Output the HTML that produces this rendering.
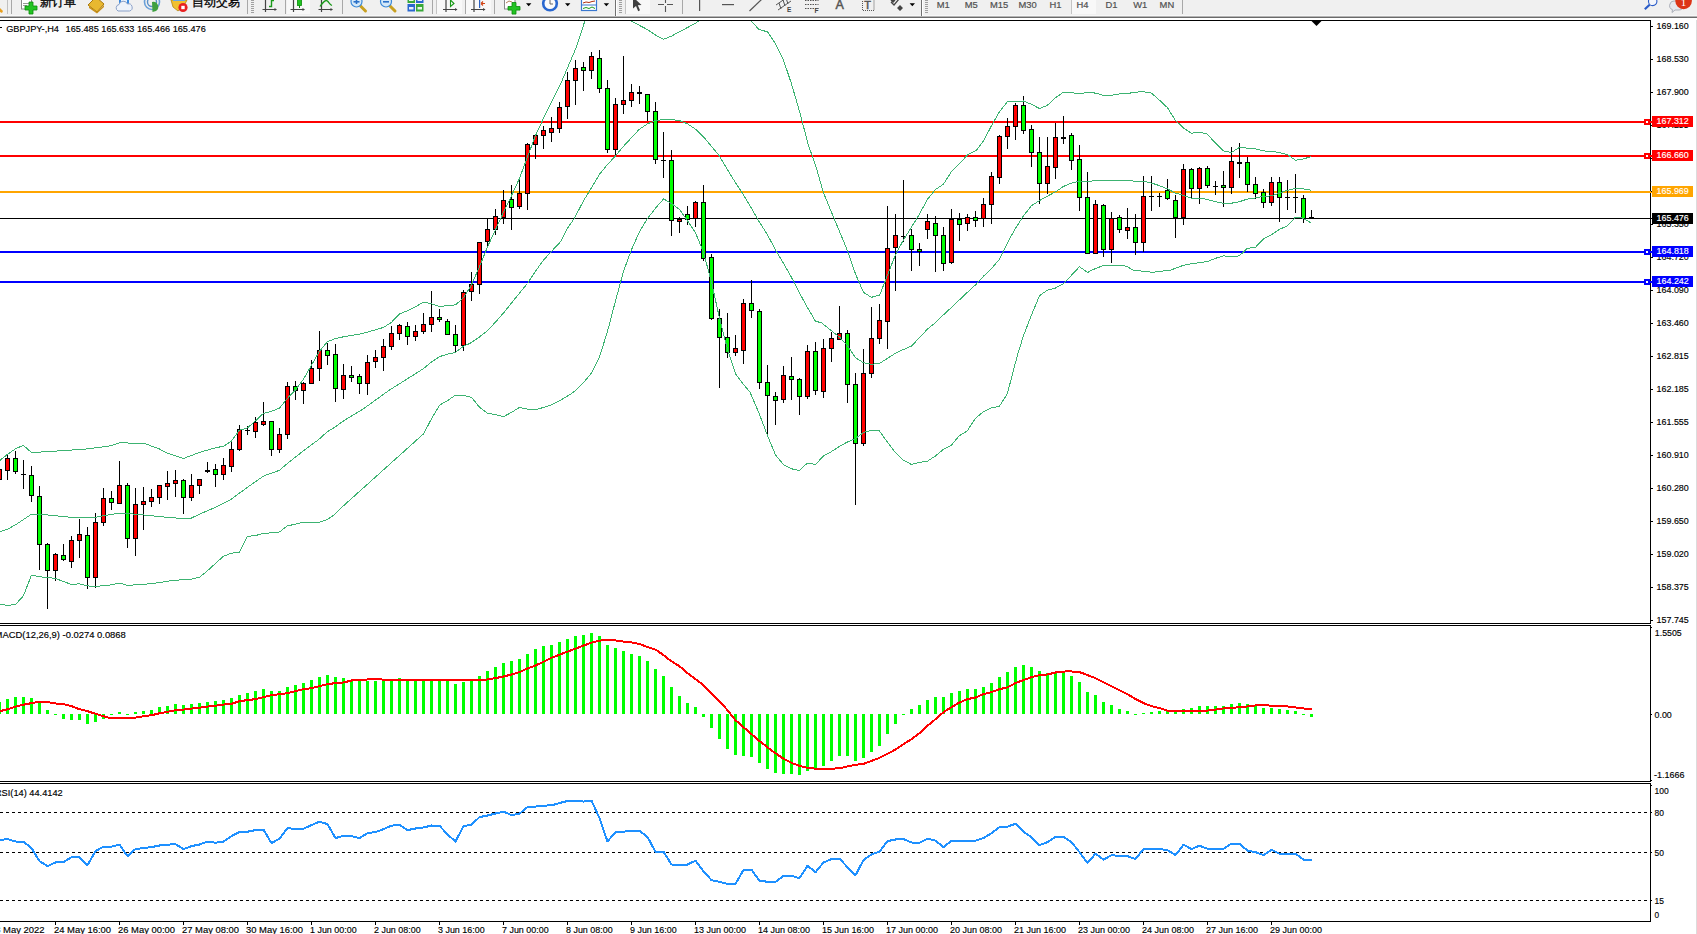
<!DOCTYPE html>
<html><head><meta charset="utf-8"><title>GBPJPY-,H4</title>
<style>html,body{margin:0;padding:0;background:#fff;overflow:hidden}svg{display:block}text{font-family:"Liberation Sans", sans-serif;}</style></head><body>
<svg width="1697" height="934" viewBox="0 0 1697 934">
<rect x="0" y="0" width="1697" height="934" fill="#fff"/>
<defs><clipPath id="cm"><rect x="0" y="21" width="1650" height="602"/></clipPath>
<clipPath id="c2"><rect x="0" y="626" width="1650" height="155"/></clipPath>
<clipPath id="c3"><rect x="0" y="784" width="1650" height="137"/></clipPath></defs>
<g clip-path="url(#cm)">
<rect x="0" y="121" width="1650" height="2" fill="#ff0000" shape-rendering="crispEdges"/>
<rect x="0" y="155" width="1650" height="2" fill="#ff0000" shape-rendering="crispEdges"/>
<rect x="0" y="191" width="1650" height="2" fill="#ffa500" shape-rendering="crispEdges"/>
<rect x="0" y="251" width="1650" height="2" fill="#0000ff" shape-rendering="crispEdges"/>
<rect x="0" y="281" width="1650" height="2" fill="#0000ff" shape-rendering="crispEdges"/>
<rect x="0" y="218" width="1650" height="1" fill="#000" shape-rendering="crispEdges"/>
<g shape-rendering="crispEdges">
<rect x="-1" y="469" width="1" height="11" fill="#000"/>
<rect x="-3" y="469" width="5" height="11" fill="#000"/>
<rect x="-2" y="470" width="3" height="9" fill="#ff0000"/>
<rect x="7" y="455" width="1" height="25" fill="#000"/>
<rect x="5" y="458" width="5" height="13" fill="#000"/>
<rect x="6" y="459" width="3" height="11" fill="#ff0000"/>
<rect x="15" y="451" width="1" height="23" fill="#000"/>
<rect x="13" y="458" width="5" height="14" fill="#000"/>
<rect x="14" y="459" width="3" height="12" fill="#00ff00"/>
<rect x="23" y="460" width="1" height="29" fill="#000"/>
<rect x="21" y="474" width="5" height="1" fill="#000"/>
<rect x="31" y="466" width="1" height="36" fill="#000"/>
<rect x="29" y="475" width="5" height="21" fill="#000"/>
<rect x="30" y="476" width="3" height="19" fill="#00ff00"/>
<rect x="39" y="486" width="1" height="84" fill="#000"/>
<rect x="37" y="496" width="5" height="49" fill="#000"/>
<rect x="38" y="497" width="3" height="47" fill="#00ff00"/>
<rect x="47" y="543" width="1" height="66" fill="#000"/>
<rect x="45" y="544" width="5" height="27" fill="#000"/>
<rect x="46" y="545" width="3" height="25" fill="#00ff00"/>
<rect x="55" y="553" width="1" height="28" fill="#000"/>
<rect x="53" y="554" width="5" height="17" fill="#000"/>
<rect x="54" y="555" width="3" height="15" fill="#ff0000"/>
<rect x="63" y="544" width="1" height="17" fill="#000"/>
<rect x="61" y="555" width="5" height="5" fill="#000"/>
<rect x="62" y="556" width="3" height="3" fill="#00ff00"/>
<rect x="71" y="536" width="1" height="32" fill="#000"/>
<rect x="69" y="540" width="5" height="22" fill="#000"/>
<rect x="70" y="541" width="3" height="20" fill="#ff0000"/>
<rect x="79" y="519" width="1" height="39" fill="#000"/>
<rect x="77" y="534" width="5" height="7" fill="#000"/>
<rect x="78" y="535" width="3" height="5" fill="#ff0000"/>
<rect x="87" y="527" width="1" height="62" fill="#000"/>
<rect x="85" y="535" width="5" height="43" fill="#000"/>
<rect x="86" y="536" width="3" height="41" fill="#00ff00"/>
<rect x="95" y="513" width="1" height="75" fill="#000"/>
<rect x="93" y="522" width="5" height="56" fill="#000"/>
<rect x="94" y="523" width="3" height="54" fill="#ff0000"/>
<rect x="103" y="488" width="1" height="38" fill="#000"/>
<rect x="101" y="498" width="5" height="25" fill="#000"/>
<rect x="102" y="499" width="3" height="23" fill="#ff0000"/>
<rect x="111" y="491" width="1" height="19" fill="#000"/>
<rect x="109" y="498" width="5" height="5" fill="#000"/>
<rect x="110" y="499" width="3" height="3" fill="#00ff00"/>
<rect x="119" y="461" width="1" height="43" fill="#000"/>
<rect x="117" y="485" width="5" height="19" fill="#000"/>
<rect x="118" y="486" width="3" height="17" fill="#ff0000"/>
<rect x="127" y="483" width="1" height="65" fill="#000"/>
<rect x="125" y="485" width="5" height="54" fill="#000"/>
<rect x="126" y="486" width="3" height="52" fill="#00ff00"/>
<rect x="135" y="488" width="1" height="68" fill="#000"/>
<rect x="133" y="504" width="5" height="35" fill="#000"/>
<rect x="134" y="505" width="3" height="33" fill="#ff0000"/>
<rect x="143" y="487" width="1" height="43" fill="#000"/>
<rect x="141" y="501" width="5" height="4" fill="#000"/>
<rect x="142" y="502" width="3" height="2" fill="#ff0000"/>
<rect x="151" y="489" width="1" height="18" fill="#000"/>
<rect x="149" y="497" width="5" height="5" fill="#000"/>
<rect x="150" y="498" width="3" height="3" fill="#ff0000"/>
<rect x="159" y="485" width="1" height="19" fill="#000"/>
<rect x="157" y="485" width="5" height="13" fill="#000"/>
<rect x="158" y="486" width="3" height="11" fill="#ff0000"/>
<rect x="167" y="471" width="1" height="29" fill="#000"/>
<rect x="165" y="483" width="5" height="4" fill="#000"/>
<rect x="166" y="484" width="3" height="2" fill="#ff0000"/>
<rect x="175" y="470" width="1" height="27" fill="#000"/>
<rect x="173" y="480" width="5" height="4" fill="#000"/>
<rect x="174" y="481" width="3" height="2" fill="#ff0000"/>
<rect x="183" y="479" width="1" height="35" fill="#000"/>
<rect x="181" y="480" width="5" height="18" fill="#000"/>
<rect x="182" y="481" width="3" height="16" fill="#00ff00"/>
<rect x="191" y="474" width="1" height="27" fill="#000"/>
<rect x="189" y="485" width="5" height="13" fill="#000"/>
<rect x="190" y="486" width="3" height="11" fill="#ff0000"/>
<rect x="199" y="479" width="1" height="15" fill="#000"/>
<rect x="197" y="479" width="5" height="7" fill="#000"/>
<rect x="198" y="480" width="3" height="5" fill="#ff0000"/>
<rect x="207" y="462" width="1" height="11" fill="#000"/>
<rect x="205" y="470" width="5" height="2" fill="#000"/>
<rect x="215" y="464" width="1" height="23" fill="#000"/>
<rect x="213" y="469" width="5" height="6" fill="#000"/>
<rect x="214" y="470" width="3" height="4" fill="#00ff00"/>
<rect x="223" y="458" width="1" height="22" fill="#000"/>
<rect x="221" y="465" width="5" height="10" fill="#000"/>
<rect x="222" y="466" width="3" height="8" fill="#ff0000"/>
<rect x="231" y="442" width="1" height="30" fill="#000"/>
<rect x="229" y="449" width="5" height="18" fill="#000"/>
<rect x="230" y="450" width="3" height="16" fill="#ff0000"/>
<rect x="239" y="425" width="1" height="26" fill="#000"/>
<rect x="237" y="429" width="5" height="21" fill="#000"/>
<rect x="238" y="430" width="3" height="19" fill="#ff0000"/>
<rect x="247" y="426" width="1" height="9" fill="#000"/>
<rect x="245" y="430" width="5" height="1" fill="#000"/>
<rect x="255" y="417" width="1" height="21" fill="#000"/>
<rect x="253" y="422" width="5" height="10" fill="#000"/>
<rect x="254" y="423" width="3" height="8" fill="#ff0000"/>
<rect x="263" y="402" width="1" height="24" fill="#000"/>
<rect x="261" y="421" width="5" height="4" fill="#000"/>
<rect x="262" y="422" width="3" height="2" fill="#ff0000"/>
<rect x="271" y="421" width="1" height="35" fill="#000"/>
<rect x="269" y="421" width="5" height="29" fill="#000"/>
<rect x="270" y="422" width="3" height="27" fill="#00ff00"/>
<rect x="279" y="428" width="1" height="25" fill="#000"/>
<rect x="277" y="434" width="5" height="16" fill="#000"/>
<rect x="278" y="435" width="3" height="14" fill="#ff0000"/>
<rect x="287" y="382" width="1" height="57" fill="#000"/>
<rect x="285" y="386" width="5" height="49" fill="#000"/>
<rect x="286" y="387" width="3" height="47" fill="#ff0000"/>
<rect x="295" y="381" width="1" height="19" fill="#000"/>
<rect x="293" y="386" width="5" height="5" fill="#000"/>
<rect x="294" y="387" width="3" height="3" fill="#00ff00"/>
<rect x="303" y="382" width="1" height="22" fill="#000"/>
<rect x="301" y="383" width="5" height="8" fill="#000"/>
<rect x="302" y="384" width="3" height="6" fill="#ff0000"/>
<rect x="311" y="360" width="1" height="24" fill="#000"/>
<rect x="309" y="368" width="5" height="16" fill="#000"/>
<rect x="310" y="369" width="3" height="14" fill="#ff0000"/>
<rect x="319" y="331" width="1" height="50" fill="#000"/>
<rect x="317" y="350" width="5" height="19" fill="#000"/>
<rect x="318" y="351" width="3" height="17" fill="#ff0000"/>
<rect x="327" y="343" width="1" height="22" fill="#000"/>
<rect x="325" y="350" width="5" height="6" fill="#000"/>
<rect x="326" y="351" width="3" height="4" fill="#00ff00"/>
<rect x="335" y="344" width="1" height="58" fill="#000"/>
<rect x="333" y="354" width="5" height="35" fill="#000"/>
<rect x="334" y="355" width="3" height="33" fill="#00ff00"/>
<rect x="343" y="364" width="1" height="35" fill="#000"/>
<rect x="341" y="375" width="5" height="15" fill="#000"/>
<rect x="342" y="376" width="3" height="13" fill="#ff0000"/>
<rect x="351" y="366" width="1" height="16" fill="#000"/>
<rect x="349" y="375" width="5" height="3" fill="#000"/>
<rect x="350" y="376" width="3" height="1" fill="#00ff00"/>
<rect x="359" y="374" width="1" height="20" fill="#000"/>
<rect x="357" y="376" width="5" height="8" fill="#000"/>
<rect x="358" y="377" width="3" height="6" fill="#00ff00"/>
<rect x="367" y="355" width="1" height="40" fill="#000"/>
<rect x="365" y="362" width="5" height="22" fill="#000"/>
<rect x="366" y="363" width="3" height="20" fill="#ff0000"/>
<rect x="375" y="350" width="1" height="18" fill="#000"/>
<rect x="373" y="357" width="5" height="5" fill="#000"/>
<rect x="374" y="358" width="3" height="3" fill="#ff0000"/>
<rect x="383" y="339" width="1" height="32" fill="#000"/>
<rect x="381" y="346" width="5" height="12" fill="#000"/>
<rect x="382" y="347" width="3" height="10" fill="#ff0000"/>
<rect x="391" y="326" width="1" height="24" fill="#000"/>
<rect x="389" y="333" width="5" height="14" fill="#000"/>
<rect x="390" y="334" width="3" height="12" fill="#ff0000"/>
<rect x="399" y="324" width="1" height="16" fill="#000"/>
<rect x="397" y="325" width="5" height="9" fill="#000"/>
<rect x="398" y="326" width="3" height="7" fill="#ff0000"/>
<rect x="407" y="322" width="1" height="23" fill="#000"/>
<rect x="405" y="326" width="5" height="11" fill="#000"/>
<rect x="406" y="327" width="3" height="9" fill="#00ff00"/>
<rect x="415" y="325" width="1" height="16" fill="#000"/>
<rect x="413" y="331" width="5" height="6" fill="#000"/>
<rect x="414" y="332" width="3" height="4" fill="#ff0000"/>
<rect x="423" y="313" width="1" height="21" fill="#000"/>
<rect x="421" y="324" width="5" height="8" fill="#000"/>
<rect x="422" y="325" width="3" height="6" fill="#ff0000"/>
<rect x="431" y="291" width="1" height="41" fill="#000"/>
<rect x="429" y="317" width="5" height="8" fill="#000"/>
<rect x="430" y="318" width="3" height="6" fill="#ff0000"/>
<rect x="439" y="309" width="1" height="13" fill="#000"/>
<rect x="437" y="317" width="5" height="3" fill="#000"/>
<rect x="438" y="318" width="3" height="1" fill="#00ff00"/>
<rect x="447" y="319" width="1" height="16" fill="#000"/>
<rect x="445" y="321" width="5" height="14" fill="#000"/>
<rect x="446" y="322" width="3" height="12" fill="#00ff00"/>
<rect x="455" y="325" width="1" height="28" fill="#000"/>
<rect x="453" y="334" width="5" height="12" fill="#000"/>
<rect x="454" y="335" width="3" height="10" fill="#00ff00"/>
<rect x="463" y="290" width="1" height="61" fill="#000"/>
<rect x="461" y="292" width="5" height="54" fill="#000"/>
<rect x="462" y="293" width="3" height="52" fill="#ff0000"/>
<rect x="471" y="272" width="1" height="29" fill="#000"/>
<rect x="469" y="284" width="5" height="8" fill="#000"/>
<rect x="470" y="285" width="3" height="6" fill="#ff0000"/>
<rect x="479" y="242" width="1" height="52" fill="#000"/>
<rect x="477" y="242" width="5" height="43" fill="#000"/>
<rect x="478" y="243" width="3" height="41" fill="#ff0000"/>
<rect x="487" y="219" width="1" height="29" fill="#000"/>
<rect x="485" y="229" width="5" height="13" fill="#000"/>
<rect x="486" y="230" width="3" height="11" fill="#ff0000"/>
<rect x="495" y="209" width="1" height="26" fill="#000"/>
<rect x="493" y="216" width="5" height="14" fill="#000"/>
<rect x="494" y="217" width="3" height="12" fill="#ff0000"/>
<rect x="503" y="190" width="1" height="34" fill="#000"/>
<rect x="501" y="200" width="5" height="18" fill="#000"/>
<rect x="502" y="201" width="3" height="16" fill="#ff0000"/>
<rect x="511" y="185" width="1" height="45" fill="#000"/>
<rect x="509" y="199" width="5" height="9" fill="#000"/>
<rect x="510" y="200" width="3" height="7" fill="#00ff00"/>
<rect x="519" y="178" width="1" height="31" fill="#000"/>
<rect x="517" y="193" width="5" height="14" fill="#000"/>
<rect x="518" y="194" width="3" height="12" fill="#ff0000"/>
<rect x="527" y="143" width="1" height="67" fill="#000"/>
<rect x="525" y="144" width="5" height="50" fill="#000"/>
<rect x="526" y="145" width="3" height="48" fill="#ff0000"/>
<rect x="535" y="135" width="1" height="24" fill="#000"/>
<rect x="533" y="135" width="5" height="10" fill="#000"/>
<rect x="534" y="136" width="3" height="8" fill="#ff0000"/>
<rect x="543" y="126" width="1" height="23" fill="#000"/>
<rect x="541" y="130" width="5" height="6" fill="#000"/>
<rect x="542" y="131" width="3" height="4" fill="#ff0000"/>
<rect x="551" y="117" width="1" height="25" fill="#000"/>
<rect x="549" y="128" width="5" height="5" fill="#000"/>
<rect x="550" y="129" width="3" height="3" fill="#ff0000"/>
<rect x="559" y="102" width="1" height="31" fill="#000"/>
<rect x="557" y="107" width="5" height="22" fill="#000"/>
<rect x="558" y="108" width="3" height="20" fill="#ff0000"/>
<rect x="567" y="72" width="1" height="47" fill="#000"/>
<rect x="565" y="80" width="5" height="27" fill="#000"/>
<rect x="566" y="81" width="3" height="25" fill="#ff0000"/>
<rect x="575" y="60" width="1" height="45" fill="#000"/>
<rect x="573" y="68" width="5" height="13" fill="#000"/>
<rect x="574" y="69" width="3" height="11" fill="#ff0000"/>
<rect x="583" y="62" width="1" height="29" fill="#000"/>
<rect x="581" y="67" width="5" height="4" fill="#000"/>
<rect x="582" y="68" width="3" height="2" fill="#00ff00"/>
<rect x="591" y="52" width="1" height="27" fill="#000"/>
<rect x="589" y="56" width="5" height="15" fill="#000"/>
<rect x="590" y="57" width="3" height="13" fill="#ff0000"/>
<rect x="599" y="50" width="1" height="43" fill="#000"/>
<rect x="597" y="58" width="5" height="31" fill="#000"/>
<rect x="598" y="59" width="3" height="29" fill="#00ff00"/>
<rect x="607" y="80" width="1" height="73" fill="#000"/>
<rect x="605" y="88" width="5" height="62" fill="#000"/>
<rect x="606" y="89" width="3" height="60" fill="#00ff00"/>
<rect x="615" y="98" width="1" height="58" fill="#000"/>
<rect x="613" y="104" width="5" height="46" fill="#000"/>
<rect x="614" y="105" width="3" height="44" fill="#ff0000"/>
<rect x="623" y="56" width="1" height="58" fill="#000"/>
<rect x="621" y="100" width="5" height="5" fill="#000"/>
<rect x="622" y="101" width="3" height="3" fill="#ff0000"/>
<rect x="631" y="84" width="1" height="23" fill="#000"/>
<rect x="629" y="92" width="5" height="9" fill="#000"/>
<rect x="630" y="93" width="3" height="7" fill="#ff0000"/>
<rect x="639" y="86" width="1" height="18" fill="#000"/>
<rect x="637" y="92" width="5" height="2" fill="#000"/>
<rect x="647" y="94" width="1" height="27" fill="#000"/>
<rect x="645" y="94" width="5" height="18" fill="#000"/>
<rect x="646" y="95" width="3" height="16" fill="#00ff00"/>
<rect x="655" y="102" width="1" height="62" fill="#000"/>
<rect x="653" y="111" width="5" height="49" fill="#000"/>
<rect x="654" y="112" width="3" height="47" fill="#00ff00"/>
<rect x="663" y="132" width="1" height="46" fill="#000"/>
<rect x="661" y="160" width="5" height="1" fill="#000"/>
<rect x="671" y="150" width="1" height="86" fill="#000"/>
<rect x="669" y="160" width="5" height="61" fill="#000"/>
<rect x="670" y="161" width="3" height="59" fill="#00ff00"/>
<rect x="679" y="217" width="1" height="16" fill="#000"/>
<rect x="677" y="219" width="5" height="3" fill="#000"/>
<rect x="678" y="220" width="3" height="1" fill="#ff0000"/>
<rect x="687" y="206" width="1" height="19" fill="#000"/>
<rect x="685" y="214" width="5" height="6" fill="#000"/>
<rect x="686" y="215" width="3" height="4" fill="#00ff00"/>
<rect x="695" y="201" width="1" height="26" fill="#000"/>
<rect x="693" y="202" width="5" height="17" fill="#000"/>
<rect x="694" y="203" width="3" height="15" fill="#ff0000"/>
<rect x="703" y="185" width="1" height="76" fill="#000"/>
<rect x="701" y="202" width="5" height="57" fill="#000"/>
<rect x="702" y="203" width="3" height="55" fill="#00ff00"/>
<rect x="711" y="254" width="1" height="66" fill="#000"/>
<rect x="709" y="257" width="5" height="62" fill="#000"/>
<rect x="710" y="258" width="3" height="60" fill="#00ff00"/>
<rect x="719" y="309" width="1" height="79" fill="#000"/>
<rect x="717" y="318" width="5" height="20" fill="#000"/>
<rect x="718" y="319" width="3" height="18" fill="#00ff00"/>
<rect x="727" y="313" width="1" height="45" fill="#000"/>
<rect x="725" y="337" width="5" height="16" fill="#000"/>
<rect x="726" y="338" width="3" height="14" fill="#00ff00"/>
<rect x="735" y="335" width="1" height="21" fill="#000"/>
<rect x="733" y="348" width="5" height="5" fill="#000"/>
<rect x="734" y="349" width="3" height="3" fill="#ff0000"/>
<rect x="743" y="299" width="1" height="65" fill="#000"/>
<rect x="741" y="303" width="5" height="48" fill="#000"/>
<rect x="742" y="304" width="3" height="46" fill="#ff0000"/>
<rect x="751" y="280" width="1" height="38" fill="#000"/>
<rect x="749" y="303" width="5" height="8" fill="#000"/>
<rect x="750" y="304" width="3" height="6" fill="#00ff00"/>
<rect x="759" y="309" width="1" height="80" fill="#000"/>
<rect x="757" y="311" width="5" height="72" fill="#000"/>
<rect x="758" y="312" width="3" height="70" fill="#00ff00"/>
<rect x="767" y="365" width="1" height="70" fill="#000"/>
<rect x="765" y="382" width="5" height="14" fill="#000"/>
<rect x="766" y="383" width="3" height="12" fill="#00ff00"/>
<rect x="775" y="392" width="1" height="33" fill="#000"/>
<rect x="773" y="396" width="5" height="5" fill="#000"/>
<rect x="774" y="397" width="3" height="3" fill="#00ff00"/>
<rect x="783" y="366" width="1" height="37" fill="#000"/>
<rect x="781" y="375" width="5" height="25" fill="#000"/>
<rect x="782" y="376" width="3" height="23" fill="#ff0000"/>
<rect x="791" y="357" width="1" height="43" fill="#000"/>
<rect x="789" y="376" width="5" height="4" fill="#000"/>
<rect x="790" y="377" width="3" height="2" fill="#00ff00"/>
<rect x="799" y="378" width="1" height="37" fill="#000"/>
<rect x="797" y="379" width="5" height="18" fill="#000"/>
<rect x="798" y="380" width="3" height="16" fill="#00ff00"/>
<rect x="807" y="345" width="1" height="54" fill="#000"/>
<rect x="805" y="351" width="5" height="46" fill="#000"/>
<rect x="806" y="352" width="3" height="44" fill="#ff0000"/>
<rect x="815" y="342" width="1" height="53" fill="#000"/>
<rect x="813" y="351" width="5" height="40" fill="#000"/>
<rect x="814" y="352" width="3" height="38" fill="#00ff00"/>
<rect x="823" y="339" width="1" height="59" fill="#000"/>
<rect x="821" y="348" width="5" height="44" fill="#000"/>
<rect x="822" y="349" width="3" height="42" fill="#ff0000"/>
<rect x="831" y="332" width="1" height="30" fill="#000"/>
<rect x="829" y="338" width="5" height="11" fill="#000"/>
<rect x="830" y="339" width="3" height="9" fill="#ff0000"/>
<rect x="839" y="306" width="1" height="34" fill="#000"/>
<rect x="837" y="333" width="5" height="7" fill="#000"/>
<rect x="838" y="334" width="3" height="5" fill="#ff0000"/>
<rect x="847" y="330" width="1" height="73" fill="#000"/>
<rect x="845" y="333" width="5" height="52" fill="#000"/>
<rect x="846" y="334" width="3" height="50" fill="#00ff00"/>
<rect x="855" y="373" width="1" height="132" fill="#000"/>
<rect x="853" y="384" width="5" height="60" fill="#000"/>
<rect x="854" y="385" width="3" height="58" fill="#00ff00"/>
<rect x="863" y="349" width="1" height="97" fill="#000"/>
<rect x="861" y="373" width="5" height="71" fill="#000"/>
<rect x="862" y="374" width="3" height="69" fill="#ff0000"/>
<rect x="871" y="307" width="1" height="71" fill="#000"/>
<rect x="869" y="338" width="5" height="36" fill="#000"/>
<rect x="870" y="339" width="3" height="34" fill="#ff0000"/>
<rect x="879" y="304" width="1" height="40" fill="#000"/>
<rect x="877" y="320" width="5" height="19" fill="#000"/>
<rect x="878" y="321" width="3" height="17" fill="#ff0000"/>
<rect x="887" y="206" width="1" height="143" fill="#000"/>
<rect x="885" y="248" width="5" height="74" fill="#000"/>
<rect x="886" y="249" width="3" height="72" fill="#ff0000"/>
<rect x="895" y="214" width="1" height="77" fill="#000"/>
<rect x="893" y="235" width="5" height="13" fill="#000"/>
<rect x="894" y="236" width="3" height="11" fill="#ff0000"/>
<rect x="903" y="180" width="1" height="62" fill="#000"/>
<rect x="901" y="236" width="5" height="1" fill="#000"/>
<rect x="911" y="229" width="1" height="42" fill="#000"/>
<rect x="909" y="235" width="5" height="15" fill="#000"/>
<rect x="910" y="236" width="3" height="13" fill="#00ff00"/>
<rect x="919" y="243" width="1" height="23" fill="#000"/>
<rect x="917" y="249" width="5" height="3" fill="#000"/>
<rect x="918" y="250" width="3" height="1" fill="#00ff00"/>
<rect x="927" y="214" width="1" height="25" fill="#000"/>
<rect x="925" y="221" width="5" height="9" fill="#000"/>
<rect x="926" y="222" width="3" height="7" fill="#ff0000"/>
<rect x="935" y="216" width="1" height="56" fill="#000"/>
<rect x="933" y="223" width="5" height="13" fill="#000"/>
<rect x="934" y="224" width="3" height="11" fill="#00ff00"/>
<rect x="943" y="227" width="1" height="44" fill="#000"/>
<rect x="941" y="235" width="5" height="29" fill="#000"/>
<rect x="942" y="236" width="3" height="27" fill="#00ff00"/>
<rect x="951" y="209" width="1" height="55" fill="#000"/>
<rect x="949" y="219" width="5" height="44" fill="#000"/>
<rect x="950" y="220" width="3" height="42" fill="#ff0000"/>
<rect x="959" y="213" width="1" height="28" fill="#000"/>
<rect x="957" y="219" width="5" height="6" fill="#000"/>
<rect x="958" y="220" width="3" height="4" fill="#00ff00"/>
<rect x="967" y="214" width="1" height="17" fill="#000"/>
<rect x="965" y="217" width="5" height="7" fill="#000"/>
<rect x="966" y="218" width="3" height="5" fill="#ff0000"/>
<rect x="975" y="211" width="1" height="16" fill="#000"/>
<rect x="973" y="217" width="5" height="4" fill="#000"/>
<rect x="974" y="218" width="3" height="2" fill="#00ff00"/>
<rect x="983" y="198" width="1" height="29" fill="#000"/>
<rect x="981" y="204" width="5" height="15" fill="#000"/>
<rect x="982" y="205" width="3" height="13" fill="#ff0000"/>
<rect x="991" y="172" width="1" height="52" fill="#000"/>
<rect x="989" y="176" width="5" height="29" fill="#000"/>
<rect x="990" y="177" width="3" height="27" fill="#ff0000"/>
<rect x="999" y="135" width="1" height="49" fill="#000"/>
<rect x="997" y="136" width="5" height="42" fill="#000"/>
<rect x="998" y="137" width="3" height="40" fill="#ff0000"/>
<rect x="1007" y="118" width="1" height="31" fill="#000"/>
<rect x="1005" y="126" width="5" height="11" fill="#000"/>
<rect x="1006" y="127" width="3" height="9" fill="#ff0000"/>
<rect x="1015" y="103" width="1" height="37" fill="#000"/>
<rect x="1013" y="105" width="5" height="22" fill="#000"/>
<rect x="1014" y="106" width="3" height="20" fill="#ff0000"/>
<rect x="1023" y="96" width="1" height="38" fill="#000"/>
<rect x="1021" y="105" width="5" height="26" fill="#000"/>
<rect x="1022" y="106" width="3" height="24" fill="#00ff00"/>
<rect x="1031" y="125" width="1" height="42" fill="#000"/>
<rect x="1029" y="129" width="5" height="24" fill="#000"/>
<rect x="1030" y="130" width="3" height="22" fill="#00ff00"/>
<rect x="1039" y="137" width="1" height="67" fill="#000"/>
<rect x="1037" y="152" width="5" height="32" fill="#000"/>
<rect x="1038" y="153" width="3" height="30" fill="#00ff00"/>
<rect x="1047" y="137" width="1" height="57" fill="#000"/>
<rect x="1045" y="166" width="5" height="18" fill="#000"/>
<rect x="1046" y="167" width="3" height="16" fill="#ff0000"/>
<rect x="1055" y="123" width="1" height="56" fill="#000"/>
<rect x="1053" y="137" width="5" height="31" fill="#000"/>
<rect x="1054" y="138" width="3" height="29" fill="#ff0000"/>
<rect x="1063" y="116" width="1" height="28" fill="#000"/>
<rect x="1061" y="137" width="5" height="2" fill="#000"/>
<rect x="1071" y="133" width="1" height="37" fill="#000"/>
<rect x="1069" y="135" width="5" height="26" fill="#000"/>
<rect x="1070" y="136" width="3" height="24" fill="#00ff00"/>
<rect x="1079" y="145" width="1" height="66" fill="#000"/>
<rect x="1077" y="159" width="5" height="39" fill="#000"/>
<rect x="1078" y="160" width="3" height="37" fill="#00ff00"/>
<rect x="1087" y="172" width="1" height="82" fill="#000"/>
<rect x="1085" y="197" width="5" height="57" fill="#000"/>
<rect x="1086" y="198" width="3" height="55" fill="#00ff00"/>
<rect x="1095" y="200" width="1" height="54" fill="#000"/>
<rect x="1093" y="204" width="5" height="50" fill="#000"/>
<rect x="1094" y="205" width="3" height="48" fill="#ff0000"/>
<rect x="1103" y="204" width="1" height="53" fill="#000"/>
<rect x="1101" y="205" width="5" height="45" fill="#000"/>
<rect x="1102" y="206" width="3" height="43" fill="#00ff00"/>
<rect x="1111" y="212" width="1" height="51" fill="#000"/>
<rect x="1109" y="218" width="5" height="32" fill="#000"/>
<rect x="1110" y="219" width="3" height="30" fill="#ff0000"/>
<rect x="1119" y="215" width="1" height="18" fill="#000"/>
<rect x="1117" y="217" width="5" height="13" fill="#000"/>
<rect x="1118" y="218" width="3" height="11" fill="#00ff00"/>
<rect x="1127" y="208" width="1" height="31" fill="#000"/>
<rect x="1125" y="227" width="5" height="4" fill="#000"/>
<rect x="1126" y="228" width="3" height="2" fill="#ff0000"/>
<rect x="1135" y="214" width="1" height="41" fill="#000"/>
<rect x="1133" y="227" width="5" height="16" fill="#000"/>
<rect x="1134" y="228" width="3" height="14" fill="#00ff00"/>
<rect x="1143" y="176" width="1" height="76" fill="#000"/>
<rect x="1141" y="196" width="5" height="47" fill="#000"/>
<rect x="1142" y="197" width="3" height="45" fill="#ff0000"/>
<rect x="1151" y="176" width="1" height="35" fill="#000"/>
<rect x="1149" y="196" width="5" height="1" fill="#000"/>
<rect x="1159" y="193" width="1" height="14" fill="#000"/>
<rect x="1157" y="196" width="5" height="1" fill="#000"/>
<rect x="1167" y="179" width="1" height="21" fill="#000"/>
<rect x="1165" y="190" width="5" height="9" fill="#000"/>
<rect x="1166" y="191" width="3" height="7" fill="#00ff00"/>
<rect x="1175" y="195" width="1" height="43" fill="#000"/>
<rect x="1173" y="200" width="5" height="18" fill="#000"/>
<rect x="1174" y="201" width="3" height="16" fill="#00ff00"/>
<rect x="1183" y="164" width="1" height="61" fill="#000"/>
<rect x="1181" y="169" width="5" height="49" fill="#000"/>
<rect x="1182" y="170" width="3" height="47" fill="#ff0000"/>
<rect x="1191" y="168" width="1" height="30" fill="#000"/>
<rect x="1189" y="169" width="5" height="20" fill="#000"/>
<rect x="1190" y="170" width="3" height="18" fill="#00ff00"/>
<rect x="1199" y="167" width="1" height="37" fill="#000"/>
<rect x="1197" y="168" width="5" height="21" fill="#000"/>
<rect x="1198" y="169" width="3" height="19" fill="#ff0000"/>
<rect x="1207" y="166" width="1" height="22" fill="#000"/>
<rect x="1205" y="168" width="5" height="18" fill="#000"/>
<rect x="1206" y="169" width="3" height="16" fill="#00ff00"/>
<rect x="1215" y="181" width="1" height="14" fill="#000"/>
<rect x="1213" y="186" width="5" height="1" fill="#000"/>
<rect x="1223" y="171" width="1" height="36" fill="#000"/>
<rect x="1221" y="185" width="5" height="3" fill="#000"/>
<rect x="1222" y="186" width="3" height="1" fill="#00ff00"/>
<rect x="1231" y="147" width="1" height="47" fill="#000"/>
<rect x="1229" y="161" width="5" height="27" fill="#000"/>
<rect x="1230" y="162" width="3" height="25" fill="#ff0000"/>
<rect x="1239" y="143" width="1" height="35" fill="#000"/>
<rect x="1237" y="162" width="5" height="2" fill="#000"/>
<rect x="1247" y="157" width="1" height="35" fill="#000"/>
<rect x="1245" y="162" width="5" height="23" fill="#000"/>
<rect x="1246" y="163" width="3" height="21" fill="#00ff00"/>
<rect x="1255" y="177" width="1" height="22" fill="#000"/>
<rect x="1253" y="184" width="5" height="10" fill="#000"/>
<rect x="1254" y="185" width="3" height="8" fill="#00ff00"/>
<rect x="1263" y="189" width="1" height="19" fill="#000"/>
<rect x="1261" y="192" width="5" height="11" fill="#000"/>
<rect x="1262" y="193" width="3" height="9" fill="#00ff00"/>
<rect x="1271" y="177" width="1" height="29" fill="#000"/>
<rect x="1269" y="182" width="5" height="21" fill="#000"/>
<rect x="1270" y="183" width="3" height="19" fill="#ff0000"/>
<rect x="1279" y="177" width="1" height="45" fill="#000"/>
<rect x="1277" y="182" width="5" height="16" fill="#000"/>
<rect x="1278" y="183" width="3" height="14" fill="#00ff00"/>
<rect x="1287" y="180" width="1" height="30" fill="#000"/>
<rect x="1285" y="197" width="5" height="1" fill="#000"/>
<rect x="1295" y="174" width="1" height="39" fill="#000"/>
<rect x="1293" y="197" width="5" height="1" fill="#000"/>
<rect x="1303" y="195" width="1" height="28" fill="#000"/>
<rect x="1301" y="198" width="5" height="21" fill="#000"/>
<rect x="1302" y="199" width="3" height="19" fill="#00ff00"/>
<rect x="1311" y="210" width="1" height="8" fill="#000"/>
<rect x="1309" y="217" width="5" height="1" fill="#000"/>
</g>
<polyline points="0.0,460.3 7.5,454.3 15.4,448.9 23.3,445.3 31.5,452.5 39.4,452.1 63.4,450.6 87.4,448.9 103.4,446.8 111.3,445.7 119.5,442.9 135.3,443.1 143.5,443.1 159.3,448.9 167.4,453.2 183.5,458.5 199.3,452.5 215.4,447.8 223.3,446.3 231.2,441.4 239.4,430.1 247.4,428.0 255.3,421.0 263.4,413.4 271.5,411.3 279.5,408.1 287.4,398.4 295.5,389.9 303.4,379.2 311.4,365.3 319.5,351.3 327.4,341.7 335.6,338.5 343.5,336.8 351.4,335.3 359.5,334.2 367.5,332.1 375.4,329.9 383.5,327.4 391.4,322.4 399.4,313.9 407.5,310.7 415.4,306.8 423.6,302.1 431.5,303.8 439.4,306.4 447.5,305.7 455.5,304.9 463.4,297.8 470.8,286.2 479.4,266.9 487.6,246.6 493.9,233.2 502.8,213.7 512.3,194.0 519.5,178.4 527.4,157.0 535.5,135.6 543.4,118.5 551.4,102.4 559.5,86.4 567.4,68.2 575.6,48.9 584.5,22.1 587.8,13.6 625.8,17.9 639.4,25.4 647.5,29.6 655.4,35.0 663.6,39.3 671.5,36.1 679.4,31.8 687.5,27.5 695.5,23.2 702.8,17.9 747.3,15.7 750.5,20.0 759.0,29.6 767.6,31.8 775.5,43.6 783.7,60.7 791.6,84.2 799.7,112.1 808.4,145.1 815.5,165.0 823.5,192.8 831.4,212.1 839.5,231.4 847.4,250.6 855.6,274.2 863.5,292.4 871.4,297.3 879.6,295.2 886.2,278.5 895.4,254.9 903.5,239.9 911.5,227.1 919.4,214.2 927.5,199.2 935.4,189.6 943.4,184.3 951.5,171.4 959.7,163.5 967.4,155.0 976.3,150.5 983.6,140.7 991.5,125.7 999.4,111.8 1007.5,101.7 1015.5,101.7 1023.4,101.0 1031.5,104.3 1039.4,108.5 1047.4,105.3 1055.5,97.8 1063.4,92.1 1071.3,92.5 1079.5,94.0 1087.4,92.1 1095.3,93.1 1103.5,95.3 1111.4,95.3 1119.3,94.0 1127.4,93.6 1135.4,92.1 1143.5,91.8 1151.4,93.1 1159.3,100.0 1167.3,107.5 1175.4,120.3 1183.3,127.8 1191.2,133.2 1199.4,132.1 1207.3,134.2 1215.2,142.8 1223.4,150.9 1231.5,152.4 1239.4,147.5 1247.3,148.1 1255.5,148.8 1263.2,150.9 1271.3,151.4 1279.2,152.4 1287.5,154.7 1295.4,160.2 1301.7,159.4 1310.9,156.7" fill="none" stroke="#3cb371" stroke-width="1" stroke-linejoin="round" shape-rendering="crispEdges"/>
<polyline points="0.0,531.8 7.5,529.2 15.4,524.9 23.3,519.6 31.5,514.2 39.4,514.2 55.5,515.7 71.5,517.4 87.4,517.8 95.5,517.4 103.4,515.7 119.5,513.1 127.4,513.6 135.3,514.2 151.4,515.7 167.4,517.4 183.5,518.5 191.4,518.1 199.3,514.2 215.4,507.4 231.2,499.2 247.3,487.4 263.4,476.1 279.4,470.3 287.3,463.5 303.2,451.0 319.0,439.3 327.4,431.6 335.3,426.9 343.5,420.9 351.4,416.0 359.5,411.3 367.5,405.9 375.4,400.2 383.5,394.2 391.4,388.8 399.4,383.9 407.5,378.7 415.4,373.8 423.6,368.5 431.5,362.0 439.4,356.7 447.5,354.1 455.5,352.4 463.4,346.4 470.8,342.9 479.4,337.0 487.6,330.6 495.5,322.1 503.5,313.0 511.5,303.0 519.5,293.1 527.5,283.5 535.5,271.2 543.6,260.0 551.5,251.4 560.7,241.5 567.4,228.5 574.7,217.8 583.5,200.8 591.4,188.0 599.5,174.2 607.5,164.5 615.4,156.0 623.5,146.3 631.4,137.8 639.4,129.2 647.5,123.8 655.4,120.6 663.6,119.6 671.5,119.6 679.4,120.6 687.5,123.8 695.5,129.2 703.4,136.7 711.5,146.3 719.4,156.0 727.6,169.9 735.5,182.7 742.2,192.8 751.5,208.3 758.7,221.0 767.6,235.0 775.5,249.9 781.8,260.5 791.6,277.6 799.6,293.1 807.5,307.6 815.5,321.3 821.5,322.7 831.3,330.7 839.5,337.1 847.4,345.7 855.3,357.5 863.5,362.8 871.4,364.3 879.3,363.5 887.4,358.5 895.4,353.2 902.8,349.8 911.4,346.1 919.4,337.8 927.4,329.2 936.8,321.5 943.4,314.9 951.5,307.4 959.4,299.9 967.3,292.4 975.5,284.9 983.4,276.3 991.3,268.9 999.4,259.3 1007.5,242.7 1015.5,228.3 1023.4,216.0 1031.4,205.8 1039.5,200.5 1047.4,196.2 1055.4,191.9 1063.4,186.5 1071.4,183.1 1079.5,181.2 1087.4,181.7 1095.3,180.4 1103.5,180.4 1111.4,180.3 1119.6,180.3 1127.4,180.3 1135.4,181.3 1143.5,181.3 1151.4,183.0 1159.3,185.6 1167.3,188.8 1175.4,193.1 1183.3,195.3 1191.2,198.0 1199.4,198.0 1207.3,199.5 1215.2,201.7 1223.4,203.2 1231.5,203.2 1239.4,201.7 1247.3,199.1 1255.5,198.0 1263.2,196.3 1271.3,195.9 1279.2,193.1 1287.5,190.3 1295.4,188.3 1301.7,188.6 1310.9,190.2" fill="none" stroke="#3cb371" stroke-width="1" stroke-linejoin="round" shape-rendering="crispEdges"/>
<polyline points="0.0,604.1 7.5,605.4 15.4,604.6 23.3,596.0 31.5,575.2 39.4,576.7 55.5,578.4 63.4,581.6 71.5,584.4 79.4,583.8 87.4,585.9 95.5,586.4 111.3,584.9 119.5,583.1 127.4,585.3 143.5,584.4 159.3,582.7 167.4,581.2 183.5,579.5 191.4,579.1 199.3,577.4 207.3,570.9 215.4,563.5 223.3,556.4 231.2,553.2 239.4,552.1 247.3,536.3 255.2,535.6 263.4,533.5 279.4,532.0 287.3,526.0 303.2,522.3 319.0,522.3 327.2,519.6 335.1,514.2 340.0,508.9 423.6,433.8 431.5,418.8 439.4,405.3 447.5,400.6 455.5,395.2 463.4,395.2 471.5,397.4 479.4,407.0 487.6,413.4 495.5,414.5 503.6,416.6 511.5,412.4 519.5,407.4 527.6,409.1 535.5,409.6 543.7,407.4 551.6,404.9 559.7,400.6 570.0,394.6 576.0,390.0 583.5,382.7 591.4,373.1 599.5,357.0 607.5,331.3 615.4,301.3 623.5,271.4 631.4,249.9 639.4,231.8 647.6,218.4 655.4,208.3 663.6,198.9 671.5,203.5 679.4,209.4 686.4,219.0 695.5,232.8 703.4,252.1 711.5,282.1 719.7,319.2 727.5,349.2 735.5,373.8 743.6,384.5 749.9,391.9 759.4,414.2 767.5,435.6 775.5,454.9 783.4,464.5 791.5,468.8 799.4,470.5 807.4,463.0 815.5,464.5 823.4,456.0 831.3,451.7 839.5,446.3 847.4,442.0 855.3,438.8 863.5,432.4 871.4,430.3 879.3,430.9 887.4,442.0 895.4,452.7 903.5,460.2 911.4,464.5 919.3,462.4 927.3,461.3 935.4,456.0 943.3,449.5 951.2,445.3 959.4,435.6 967.3,430.9 975.2,418.5 983.4,411.6 991.5,407.8 999.4,406.3 1007.3,393.9 1017.1,356.4 1023.3,336.2 1030.9,316.4 1039.5,295.6 1047.4,290.2 1055.3,288.1 1063.5,283.8 1071.4,275.3 1079.5,266.7 1087.5,272.5 1093.5,269.4 1103.5,265.4 1111.4,265.0 1119.6,265.0 1127.4,266.5 1132.6,270.0 1152.7,272.3 1170.9,270.0 1183.3,265.3 1191.2,263.8 1199.4,262.7 1207.3,261.6 1215.2,258.4 1223.4,255.8 1231.5,256.7 1239.4,255.8 1247.3,248.4 1255.5,247.3 1263.2,239.1 1271.3,234.9 1279.2,229.5 1287.5,225.8 1295.4,217.2 1301.7,217.8 1310.9,222.7" fill="none" stroke="#3cb371" stroke-width="1" stroke-linejoin="round" shape-rendering="crispEdges"/>
</g>
<rect x="1644" y="119" width="6" height="6" fill="#ff0000"/><rect x="1646" y="121" width="2" height="2" fill="#fff"/>
<rect x="1644" y="153" width="6" height="6" fill="#ff0000"/><rect x="1646" y="155" width="2" height="2" fill="#fff"/>
<rect x="1644" y="249" width="6" height="6" fill="#0000ff"/><rect x="1646" y="251" width="2" height="2" fill="#fff"/>
<rect x="1644" y="279" width="6" height="6" fill="#0000ff"/><rect x="1646" y="281" width="2" height="2" fill="#fff"/>
<g clip-path="url(#c2)">
<g shape-rendering="crispEdges" fill="#00ff00">
<rect x="-2" y="702" width="3" height="12"/>
<rect x="6" y="699" width="3" height="15"/>
<rect x="14" y="697" width="3" height="17"/>
<rect x="22" y="697" width="3" height="17"/>
<rect x="30" y="698" width="3" height="16"/>
<rect x="38" y="703" width="3" height="11"/>
<rect x="46" y="710" width="3" height="4"/>
<rect x="54" y="714" width="3" height="1"/>
<rect x="62" y="714" width="3" height="5"/>
<rect x="70" y="714" width="3" height="6"/>
<rect x="78" y="714" width="3" height="6"/>
<rect x="86" y="714" width="3" height="10"/>
<rect x="94" y="714" width="3" height="8"/>
<rect x="102" y="714" width="3" height="5"/>
<rect x="110" y="714" width="3" height="1"/>
<rect x="118" y="712" width="3" height="2"/>
<rect x="126" y="714" width="3" height="1"/>
<rect x="134" y="712" width="3" height="2"/>
<rect x="142" y="711" width="3" height="3"/>
<rect x="150" y="710" width="3" height="4"/>
<rect x="158" y="707" width="3" height="7"/>
<rect x="166" y="706" width="3" height="8"/>
<rect x="174" y="704" width="3" height="10"/>
<rect x="182" y="705" width="3" height="9"/>
<rect x="190" y="704" width="3" height="10"/>
<rect x="198" y="703" width="3" height="11"/>
<rect x="206" y="702" width="3" height="12"/>
<rect x="214" y="701" width="3" height="13"/>
<rect x="222" y="700" width="3" height="14"/>
<rect x="230" y="698" width="3" height="16"/>
<rect x="238" y="695" width="3" height="19"/>
<rect x="246" y="693" width="3" height="21"/>
<rect x="254" y="691" width="3" height="23"/>
<rect x="262" y="689" width="3" height="25"/>
<rect x="270" y="691" width="3" height="23"/>
<rect x="278" y="691" width="3" height="23"/>
<rect x="286" y="687" width="3" height="27"/>
<rect x="294" y="685" width="3" height="29"/>
<rect x="302" y="683" width="3" height="31"/>
<rect x="310" y="680" width="3" height="34"/>
<rect x="318" y="677" width="3" height="37"/>
<rect x="326" y="675" width="3" height="39"/>
<rect x="334" y="677" width="3" height="37"/>
<rect x="342" y="678" width="3" height="36"/>
<rect x="350" y="680" width="3" height="34"/>
<rect x="358" y="681" width="3" height="33"/>
<rect x="366" y="681" width="3" height="33"/>
<rect x="374" y="681" width="3" height="33"/>
<rect x="382" y="681" width="3" height="33"/>
<rect x="390" y="680" width="3" height="34"/>
<rect x="398" y="678" width="3" height="36"/>
<rect x="406" y="680" width="3" height="34"/>
<rect x="414" y="681" width="3" height="33"/>
<rect x="422" y="681" width="3" height="33"/>
<rect x="430" y="680" width="3" height="34"/>
<rect x="438" y="681" width="3" height="33"/>
<rect x="446" y="681" width="3" height="33"/>
<rect x="454" y="684" width="3" height="30"/>
<rect x="462" y="682" width="3" height="32"/>
<rect x="470" y="681" width="3" height="33"/>
<rect x="478" y="676" width="3" height="38"/>
<rect x="486" y="671" width="3" height="43"/>
<rect x="494" y="667" width="3" height="47"/>
<rect x="502" y="663" width="3" height="51"/>
<rect x="510" y="661" width="3" height="53"/>
<rect x="518" y="659" width="3" height="55"/>
<rect x="526" y="654" width="3" height="60"/>
<rect x="534" y="649" width="3" height="65"/>
<rect x="542" y="646" width="3" height="68"/>
<rect x="550" y="645" width="3" height="69"/>
<rect x="558" y="642" width="3" height="72"/>
<rect x="566" y="639" width="3" height="75"/>
<rect x="574" y="636" width="3" height="78"/>
<rect x="582" y="635" width="3" height="79"/>
<rect x="590" y="633" width="3" height="81"/>
<rect x="598" y="636" width="3" height="78"/>
<rect x="606" y="645" width="3" height="69"/>
<rect x="614" y="648" width="3" height="66"/>
<rect x="622" y="651" width="3" height="63"/>
<rect x="630" y="654" width="3" height="60"/>
<rect x="638" y="656" width="3" height="58"/>
<rect x="646" y="661" width="3" height="53"/>
<rect x="654" y="669" width="3" height="45"/>
<rect x="662" y="676" width="3" height="38"/>
<rect x="670" y="687" width="3" height="27"/>
<rect x="678" y="696" width="3" height="18"/>
<rect x="686" y="703" width="3" height="11"/>
<rect x="694" y="707" width="3" height="7"/>
<rect x="702" y="714" width="3" height="3"/>
<rect x="710" y="714" width="3" height="14"/>
<rect x="718" y="714" width="3" height="25"/>
<rect x="726" y="714" width="3" height="35"/>
<rect x="734" y="714" width="3" height="41"/>
<rect x="742" y="714" width="3" height="42"/>
<rect x="750" y="714" width="3" height="43"/>
<rect x="758" y="714" width="3" height="49"/>
<rect x="766" y="714" width="3" height="55"/>
<rect x="774" y="714" width="3" height="59"/>
<rect x="782" y="714" width="3" height="60"/>
<rect x="790" y="714" width="3" height="60"/>
<rect x="798" y="714" width="3" height="61"/>
<rect x="806" y="714" width="3" height="57"/>
<rect x="814" y="714" width="3" height="56"/>
<rect x="822" y="714" width="3" height="52"/>
<rect x="830" y="714" width="3" height="47"/>
<rect x="838" y="714" width="3" height="42"/>
<rect x="846" y="714" width="3" height="42"/>
<rect x="854" y="714" width="3" height="47"/>
<rect x="862" y="714" width="3" height="44"/>
<rect x="870" y="714" width="3" height="38"/>
<rect x="878" y="714" width="3" height="32"/>
<rect x="886" y="714" width="3" height="20"/>
<rect x="894" y="714" width="3" height="10"/>
<rect x="902" y="714" width="3" height="1"/>
<rect x="910" y="709" width="3" height="5"/>
<rect x="918" y="705" width="3" height="9"/>
<rect x="926" y="700" width="3" height="14"/>
<rect x="934" y="697" width="3" height="17"/>
<rect x="942" y="697" width="3" height="17"/>
<rect x="950" y="693" width="3" height="21"/>
<rect x="958" y="691" width="3" height="23"/>
<rect x="966" y="689" width="3" height="25"/>
<rect x="974" y="689" width="3" height="25"/>
<rect x="982" y="687" width="3" height="27"/>
<rect x="990" y="683" width="3" height="31"/>
<rect x="998" y="677" width="3" height="37"/>
<rect x="1006" y="672" width="3" height="42"/>
<rect x="1014" y="667" width="3" height="47"/>
<rect x="1022" y="665" width="3" height="49"/>
<rect x="1030" y="667" width="3" height="47"/>
<rect x="1038" y="671" width="3" height="43"/>
<rect x="1046" y="673" width="3" height="41"/>
<rect x="1054" y="672" width="3" height="42"/>
<rect x="1062" y="673" width="3" height="41"/>
<rect x="1070" y="676" width="3" height="38"/>
<rect x="1078" y="682" width="3" height="32"/>
<rect x="1086" y="692" width="3" height="22"/>
<rect x="1094" y="695" width="3" height="19"/>
<rect x="1102" y="702" width="3" height="12"/>
<rect x="1110" y="705" width="3" height="9"/>
<rect x="1118" y="709" width="3" height="5"/>
<rect x="1126" y="711" width="3" height="3"/>
<rect x="1134" y="714" width="3" height="1"/>
<rect x="1142" y="713" width="3" height="1"/>
<rect x="1150" y="712" width="3" height="2"/>
<rect x="1158" y="711" width="3" height="3"/>
<rect x="1166" y="711" width="3" height="3"/>
<rect x="1174" y="711" width="3" height="3"/>
<rect x="1182" y="709" width="3" height="5"/>
<rect x="1190" y="708" width="3" height="6"/>
<rect x="1198" y="706" width="3" height="8"/>
<rect x="1206" y="706" width="3" height="8"/>
<rect x="1214" y="706" width="3" height="8"/>
<rect x="1222" y="706" width="3" height="8"/>
<rect x="1230" y="704" width="3" height="10"/>
<rect x="1238" y="703" width="3" height="11"/>
<rect x="1246" y="704" width="3" height="10"/>
<rect x="1254" y="705" width="3" height="9"/>
<rect x="1262" y="708" width="3" height="6"/>
<rect x="1270" y="708" width="3" height="6"/>
<rect x="1278" y="709" width="3" height="5"/>
<rect x="1286" y="710" width="3" height="4"/>
<rect x="1294" y="711" width="3" height="3"/>
<rect x="1302" y="714" width="3" height="1"/>
<rect x="1310" y="714" width="3" height="3"/>
</g>
<polyline points="0.0,711.2 7.6,709.2 15.6,706.7 23.6,704.7 31.5,703.1 39.5,701.7 47.5,702.1 55.5,703.5 63.5,704.1 71.5,706.1 79.5,709.2 87.6,711.2 95.6,713.8 103.6,716.2 108.2,717.6 119.6,717.8 127.6,717.8 135.6,717.6 143.7,716.2 151.7,715.2 159.7,713.2 167.7,711.8 175.7,710.2 183.7,709.6 191.7,708.5 199.8,707.7 207.8,706.5 215.8,705.7 223.8,704.5 231.8,703.7 239.8,701.1 247.8,700.1 255.9,699.1 263.9,697.1 271.9,695.1 279.9,694.1 287.9,693.1 295.9,691.1 303.9,689.1 312.0,688.1 320.0,686.1 328.0,684.1 335.7,683.1 343.4,682.5 351.4,680.5 359.5,680.1 367.5,679.5 375.5,678.7 383.5,679.7 391.5,679.9 399.5,679.9 410.1,679.9 430.2,679.9 450.2,679.9 470.2,679.9 479.7,679.9 487.5,679.5 495.5,678.1 503.5,676.5 511.5,674.5 519.5,672.1 527.5,668.5 535.6,665.5 543.6,661.7 551.6,657.7 559.6,654.7 567.6,651.6 575.6,648.6 583.4,645.6 591.5,642.6 599.5,640.6 607.5,640.0 615.5,640.4 623.5,641.6 631.5,642.4 639.5,644.0 647.6,647.0 655.6,649.6 663.5,655.1 670.7,660.8 679.4,666.1 687.4,673.1 695.5,679.1 703.5,685.1 711.5,693.1 719.5,701.1 727.5,710.2 735.5,720.2 743.5,727.2 751.6,734.2 759.6,741.2 767.4,747.2 775.4,753.2 783.4,758.6 791.4,762.8 799.4,765.9 807.5,767.9 815.5,768.7 823.5,768.7 831.5,768.7 839.5,768.3 847.5,766.3 855.5,764.8 863.6,763.8 871.6,760.8 879.6,757.8 887.4,753.8 895.4,749.6 903.4,744.2 911.4,739.2 919.5,733.2 927.5,725.8 935.5,719.2 943.5,712.2 951.5,707.1 959.5,702.5 967.5,699.1 975.6,697.5 983.6,694.1 991.6,692.1 999.7,689.1 1007.4,687.5 1015.4,683.1 1023.5,680.1 1031.5,677.1 1039.5,675.1 1047.5,674.5 1055.5,672.5 1063.5,671.7 1068.1,671.1 1071.5,671.5 1079.6,672.1 1087.6,675.1 1095.4,678.1 1103.4,682.1 1111.4,686.1 1119.4,690.1 1127.4,694.1 1135.5,699.1 1143.5,703.1 1151.5,706.1 1159.5,708.1 1167.5,710.6 1175.5,710.8 1183.5,710.8 1191.6,710.8 1199.6,710.8 1207.6,710.6 1215.4,709.6 1223.4,708.5 1231.4,708.1 1239.4,707.1 1247.5,706.5 1255.5,705.5 1263.5,705.1 1271.5,705.7 1279.5,706.1 1287.5,706.5 1295.5,707.5 1303.6,708.5 1311.6,708.9" fill="none" stroke="#ff0000" stroke-width="2" stroke-linejoin="round" shape-rendering="crispEdges"/>
</g>
<g clip-path="url(#c3)">
<line x1="0" y1="812.5" x2="1650" y2="812.5" stroke="#000" stroke-width="1" stroke-dasharray="3,3"/>
<line x1="0" y1="852.5" x2="1650" y2="852.5" stroke="#000" stroke-width="1" stroke-dasharray="3,3"/>
<line x1="0" y1="900.5" x2="1650" y2="900.5" stroke="#000" stroke-width="1" stroke-dasharray="3,3"/>
<polyline points="-0.5,840.1 7.5,839.1 15.5,841.5 23.5,841.7 31.5,848.1 39.5,861.1 47.5,866.1 55.5,862.5 63.5,862.1 71.5,857.1 79.5,857.1 87.5,865.1 95.5,851.1 103.5,846.7 111.5,846.7 119.5,844.7 127.5,856.1 135.5,849.1 143.5,848.1 151.5,847.1 159.5,845.5 167.5,844.7 175.5,844.1 183.5,849.1 191.5,846.1 199.5,844.5 207.5,841.7 215.5,842.7 223.5,841.5 231.5,836.1 239.5,832.1 247.5,831.7 255.5,830.1 263.5,829.7 271.5,843.1 279.5,838.7 287.5,828.1 295.5,829.1 303.5,828.7 311.5,825.1 319.5,821.7 327.5,824.1 335.5,838.1 343.5,835.7 351.5,836.1 359.5,838.1 367.5,833.1 375.5,832.1 383.5,829.1 391.5,825.7 399.5,824.7 407.5,830.1 415.5,828.5 423.5,827.5 431.5,825.5 439.5,825.7 447.5,834.5 455.5,841.5 463.5,826.1 471.5,824.7 479.5,817.1 487.5,815.5 495.5,813.5 503.5,811.7 511.5,815.1 519.5,813.7 527.5,807.0 535.5,806.6 543.5,805.6 551.5,805.4 559.5,803.0 567.5,801.0 575.5,800.6 583.5,801.6 591.5,800.6 599.5,818.1 607.5,841.5 615.5,832.1 623.5,831.7 631.5,830.7 639.5,830.7 647.5,837.1 655.5,851.7 663.5,851.7 671.5,864.5 679.5,864.5 687.5,864.5 695.5,860.7 703.5,871.2 711.5,880.2 719.5,881.8 727.5,883.8 735.5,883.8 743.5,869.8 751.5,869.8 759.5,880.6 767.5,881.8 775.5,881.8 783.5,875.8 791.5,875.8 799.5,878.2 807.5,865.7 815.5,872.2 823.5,862.5 831.5,859.1 839.5,858.7 847.5,867.2 855.5,875.2 863.5,860.1 871.5,854.5 879.5,851.5 887.5,841.1 895.5,839.5 903.5,839.1 911.5,842.5 919.5,842.7 927.5,838.7 935.5,840.7 943.5,847.1 951.5,840.7 959.5,840.7 967.5,840.7 975.5,840.7 983.5,838.1 991.5,833.1 999.5,827.1 1007.5,826.7 1015.5,823.7 1023.5,831.7 1031.5,837.1 1039.5,845.1 1047.5,842.1 1055.5,836.7 1063.5,836.7 1071.5,842.1 1079.5,852.1 1087.5,863.1 1095.5,853.7 1103.5,859.7 1111.5,855.1 1119.5,856.1 1127.5,856.1 1135.5,859.1 1143.5,849.1 1151.5,848.7 1159.5,849.1 1167.5,850.1 1175.5,855.1 1183.5,844.7 1191.5,849.1 1199.5,845.7 1207.5,848.7 1215.5,848.7 1223.5,848.7 1231.5,843.7 1239.5,843.7 1247.5,850.7 1255.5,852.1 1263.5,855.1 1271.5,849.7 1279.5,853.7 1287.5,853.7 1295.5,853.7 1303.5,859.7 1311.5,859.7" fill="none" stroke="#1e90ff" stroke-width="2" stroke-linejoin="round" shape-rendering="crispEdges"/>
</g>
<g shape-rendering="crispEdges" fill="#000">
<rect x="0" y="20" width="1651" height="1"/>
<rect x="1650" y="20" width="1" height="902"/>
<rect x="0" y="623" width="1651" height="1"/>
<rect x="0" y="625" width="1651" height="1"/>
<rect x="0" y="781" width="1651" height="1"/>
<rect x="0" y="783" width="1651" height="1"/>
<rect x="0" y="921" width="1651" height="1"/>
</g>
<rect x="1650" y="121" width="2" height="2" fill="#ff0000"/>
<rect x="1650" y="155" width="2" height="2" fill="#ff0000"/>
<rect x="1650" y="191" width="2" height="2" fill="#ffa500"/>
<rect x="1650" y="251" width="2" height="2" fill="#0000ff"/>
<rect x="1650" y="281" width="2" height="2" fill="#0000ff"/>
<path d="M1311.5 21 L1321.5 21 L1316.5 26 Z" fill="#000"/>
<rect x="0" y="624" width="1651" height="1" fill="#fff"/>
<rect x="0" y="782" width="1651" height="1" fill="#fff"/>
<g shape-rendering="crispEdges" fill="#000">
<rect x="1651" y="26" width="2" height="1"/>
<rect x="1651" y="59" width="2" height="1"/>
<rect x="1651" y="92" width="2" height="1"/>
<rect x="1651" y="125" width="2" height="1"/>
<rect x="1651" y="158" width="2" height="1"/>
<rect x="1651" y="191" width="2" height="1"/>
<rect x="1651" y="224" width="2" height="1"/>
<rect x="1651" y="257" width="2" height="1"/>
<rect x="1651" y="290" width="2" height="1"/>
<rect x="1651" y="323" width="2" height="1"/>
<rect x="1651" y="356" width="2" height="1"/>
<rect x="1651" y="389" width="2" height="1"/>
<rect x="1651" y="422" width="2" height="1"/>
<rect x="1651" y="455" width="2" height="1"/>
<rect x="1651" y="488" width="2" height="1"/>
<rect x="1651" y="521" width="2" height="1"/>
<rect x="1651" y="554" width="2" height="1"/>
<rect x="1651" y="587" width="2" height="1"/>
<rect x="1651" y="620" width="2" height="1"/>
<rect x="1651" y="627" width="1" height="1"/>
<rect x="1651" y="714" width="1" height="1"/>
<rect x="1651" y="780" width="1" height="1"/>
<rect x="1651" y="785" width="1" height="1"/>
<rect x="1651" y="812" width="1" height="1"/>
<rect x="1651" y="852" width="1" height="1"/>
<rect x="1651" y="900" width="1" height="1"/>
</g>
<text x="1656.5" y="29.1" font-size="9" fill="#000" stroke="#000" stroke-width="0.15" textLength="32.3" lengthAdjust="spacingAndGlyphs">169.160</text>
<text x="1656.5" y="62.1" font-size="9" fill="#000" stroke="#000" stroke-width="0.15" textLength="32.3" lengthAdjust="spacingAndGlyphs">168.530</text>
<text x="1656.5" y="95.1" font-size="9" fill="#000" stroke="#000" stroke-width="0.15" textLength="32.3" lengthAdjust="spacingAndGlyphs">167.900</text>
<text x="1656.5" y="128.1" font-size="9" fill="#000" stroke="#000" stroke-width="0.15" textLength="32.3" lengthAdjust="spacingAndGlyphs">167.255</text>
<text x="1656.5" y="161.1" font-size="9" fill="#000" stroke="#000" stroke-width="0.15" textLength="32.3" lengthAdjust="spacingAndGlyphs">166.625</text>
<text x="1656.5" y="194.1" font-size="9" fill="#000" stroke="#000" stroke-width="0.15" textLength="32.3" lengthAdjust="spacingAndGlyphs">165.980</text>
<text x="1656.5" y="227.1" font-size="9" fill="#000" stroke="#000" stroke-width="0.15" textLength="32.3" lengthAdjust="spacingAndGlyphs">165.350</text>
<text x="1656.5" y="260.1" font-size="9" fill="#000" stroke="#000" stroke-width="0.15" textLength="32.3" lengthAdjust="spacingAndGlyphs">164.720</text>
<text x="1656.5" y="293.1" font-size="9" fill="#000" stroke="#000" stroke-width="0.15" textLength="32.3" lengthAdjust="spacingAndGlyphs">164.090</text>
<text x="1656.5" y="326.1" font-size="9" fill="#000" stroke="#000" stroke-width="0.15" textLength="32.3" lengthAdjust="spacingAndGlyphs">163.460</text>
<text x="1656.5" y="359.1" font-size="9" fill="#000" stroke="#000" stroke-width="0.15" textLength="32.3" lengthAdjust="spacingAndGlyphs">162.815</text>
<text x="1656.5" y="392.1" font-size="9" fill="#000" stroke="#000" stroke-width="0.15" textLength="32.3" lengthAdjust="spacingAndGlyphs">162.185</text>
<text x="1656.5" y="425.1" font-size="9" fill="#000" stroke="#000" stroke-width="0.15" textLength="32.3" lengthAdjust="spacingAndGlyphs">161.555</text>
<text x="1656.5" y="458.1" font-size="9" fill="#000" stroke="#000" stroke-width="0.15" textLength="32.3" lengthAdjust="spacingAndGlyphs">160.910</text>
<text x="1656.5" y="491.1" font-size="9" fill="#000" stroke="#000" stroke-width="0.15" textLength="32.3" lengthAdjust="spacingAndGlyphs">160.280</text>
<text x="1656.5" y="524.1" font-size="9" fill="#000" stroke="#000" stroke-width="0.15" textLength="32.3" lengthAdjust="spacingAndGlyphs">159.650</text>
<text x="1656.5" y="557.1" font-size="9" fill="#000" stroke="#000" stroke-width="0.15" textLength="32.3" lengthAdjust="spacingAndGlyphs">159.020</text>
<text x="1656.5" y="590.1" font-size="9" fill="#000" stroke="#000" stroke-width="0.15" textLength="32.3" lengthAdjust="spacingAndGlyphs">158.375</text>
<text x="1656.5" y="623.1" font-size="9" fill="#000" stroke="#000" stroke-width="0.15" textLength="32.3" lengthAdjust="spacingAndGlyphs">157.745</text>
<rect x="1652" y="116" width="41" height="11" fill="#ff0000"/>
<text x="1656.5" y="124.4" font-size="9" fill="#fff" stroke="#fff" stroke-width="0.15" textLength="32.3" lengthAdjust="spacingAndGlyphs">167.312</text>
<rect x="1652" y="150" width="41" height="11" fill="#ff0000"/>
<text x="1656.5" y="158.4" font-size="9" fill="#fff" stroke="#fff" stroke-width="0.15" textLength="32.3" lengthAdjust="spacingAndGlyphs">166.660</text>
<rect x="1652" y="186" width="41" height="11" fill="#ffa500"/>
<text x="1656.5" y="194.4" font-size="9" fill="#fff" stroke="#fff" stroke-width="0.15" textLength="32.3" lengthAdjust="spacingAndGlyphs">165.969</text>
<rect x="1652" y="246" width="41" height="11" fill="#0000ff"/>
<text x="1656.5" y="254.4" font-size="9" fill="#fff" stroke="#fff" stroke-width="0.15" textLength="32.3" lengthAdjust="spacingAndGlyphs">164.818</text>
<rect x="1652" y="276" width="41" height="11" fill="#0000ff"/>
<text x="1656.5" y="284.4" font-size="9" fill="#fff" stroke="#fff" stroke-width="0.15" textLength="32.3" lengthAdjust="spacingAndGlyphs">164.242</text>
<rect x="1652" y="213" width="41" height="11" fill="#000"/><rect x="1650" y="218" width="2" height="1" fill="#000"/>
<text x="1656.5" y="221.4" font-size="9" fill="#fff" stroke="#fff" stroke-width="0.15" textLength="32.3" lengthAdjust="spacingAndGlyphs">165.476</text>
<text x="1654.8" y="635.7" font-size="9" fill="#000" stroke="#000" stroke-width="0.15" textLength="26.9" lengthAdjust="spacingAndGlyphs">1.5505</text>
<text x="1654.5" y="717.7" font-size="9" fill="#000" stroke="#000" stroke-width="0.15" textLength="17.3" lengthAdjust="spacingAndGlyphs">0.00</text>
<text x="1654" y="777.7" font-size="9" fill="#000" stroke="#000" stroke-width="0.15" textLength="30.5" lengthAdjust="spacingAndGlyphs">-1.1666</text>
<text x="1654.5" y="793.8" font-size="9" fill="#000" stroke="#000" stroke-width="0.15" textLength="14.2" lengthAdjust="spacingAndGlyphs">100</text>
<text x="1654.5" y="815.8" font-size="9" fill="#000" stroke="#000" stroke-width="0.15" textLength="9.4" lengthAdjust="spacingAndGlyphs">80</text>
<text x="1654.5" y="855.8" font-size="9" fill="#000" stroke="#000" stroke-width="0.15" textLength="9.4" lengthAdjust="spacingAndGlyphs">50</text>
<text x="1654.5" y="903.8" font-size="9" fill="#000" stroke="#000" stroke-width="0.15" textLength="9.4" lengthAdjust="spacingAndGlyphs">15</text>
<text x="1654.5" y="918" font-size="9" fill="#000" stroke="#000" stroke-width="0.15" textLength="4.6" lengthAdjust="spacingAndGlyphs">0</text>
<text x="6.2" y="31.6" font-size="9" fill="#000" stroke="#000" stroke-width="0.15" textLength="52.8" lengthAdjust="spacingAndGlyphs">GBPJPY-,H4</text>
<text x="65.6" y="31.6" font-size="9" fill="#000" stroke="#000" stroke-width="0.15" textLength="140.2" lengthAdjust="spacingAndGlyphs">165.485 165.633 165.466 165.476</text>
<rect x="0" y="27" width="2" height="1" fill="#000"/>
<text x="-5.4" y="637.6" font-size="9" fill="#000" stroke="#000" stroke-width="0.15" textLength="131.2" lengthAdjust="spacingAndGlyphs">MACD(12,26,9) -0.0274 0.0868</text>
<text x="-5.1" y="795.6" font-size="9" fill="#000" stroke="#000" stroke-width="0.15" textLength="67.8" lengthAdjust="spacingAndGlyphs">RSI(14) 44.4142</text>
<g shape-rendering="crispEdges" fill="#000">
<rect x="-9" y="922" width="1" height="3"/>
<rect x="55" y="922" width="1" height="3"/>
<rect x="119" y="922" width="1" height="3"/>
<rect x="183" y="922" width="1" height="3"/>
<rect x="247" y="922" width="1" height="3"/>
<rect x="311" y="922" width="1" height="3"/>
<rect x="375" y="922" width="1" height="3"/>
<rect x="439" y="922" width="1" height="3"/>
<rect x="503" y="922" width="1" height="3"/>
<rect x="567" y="922" width="1" height="3"/>
<rect x="631" y="922" width="1" height="3"/>
<rect x="695" y="922" width="1" height="3"/>
<rect x="759" y="922" width="1" height="3"/>
<rect x="823" y="922" width="1" height="3"/>
<rect x="887" y="922" width="1" height="3"/>
<rect x="951" y="922" width="1" height="3"/>
<rect x="1015" y="922" width="1" height="3"/>
<rect x="1079" y="922" width="1" height="3"/>
<rect x="1143" y="922" width="1" height="3"/>
<rect x="1207" y="922" width="1" height="3"/>
<rect x="1271" y="922" width="1" height="3"/>
</g>
<text x="-10" y="933.3" font-size="9" fill="#000" stroke="#000" stroke-width="0.15" textLength="54.6" lengthAdjust="spacingAndGlyphs">23 May 2022</text>
<text x="54" y="933.3" font-size="9" fill="#000" stroke="#000" stroke-width="0.15" textLength="57" lengthAdjust="spacingAndGlyphs">24 May 16:00</text>
<text x="118" y="933.3" font-size="9" fill="#000" stroke="#000" stroke-width="0.15" textLength="57" lengthAdjust="spacingAndGlyphs">26 May 00:00</text>
<text x="182" y="933.3" font-size="9" fill="#000" stroke="#000" stroke-width="0.15" textLength="57" lengthAdjust="spacingAndGlyphs">27 May 08:00</text>
<text x="246" y="933.3" font-size="9" fill="#000" stroke="#000" stroke-width="0.15" textLength="57" lengthAdjust="spacingAndGlyphs">30 May 16:00</text>
<text x="310" y="933.3" font-size="9" fill="#000" stroke="#000" stroke-width="0.15" textLength="46.6" lengthAdjust="spacingAndGlyphs">1 Jun 00:00</text>
<text x="374" y="933.3" font-size="9" fill="#000" stroke="#000" stroke-width="0.15" textLength="46.6" lengthAdjust="spacingAndGlyphs">2 Jun 08:00</text>
<text x="438" y="933.3" font-size="9" fill="#000" stroke="#000" stroke-width="0.15" textLength="46.6" lengthAdjust="spacingAndGlyphs">3 Jun 16:00</text>
<text x="502" y="933.3" font-size="9" fill="#000" stroke="#000" stroke-width="0.15" textLength="46.6" lengthAdjust="spacingAndGlyphs">7 Jun 00:00</text>
<text x="566" y="933.3" font-size="9" fill="#000" stroke="#000" stroke-width="0.15" textLength="46.6" lengthAdjust="spacingAndGlyphs">8 Jun 08:00</text>
<text x="630" y="933.3" font-size="9" fill="#000" stroke="#000" stroke-width="0.15" textLength="46.6" lengthAdjust="spacingAndGlyphs">9 Jun 16:00</text>
<text x="694" y="933.3" font-size="9" fill="#000" stroke="#000" stroke-width="0.15" textLength="52" lengthAdjust="spacingAndGlyphs">13 Jun 00:00</text>
<text x="758" y="933.3" font-size="9" fill="#000" stroke="#000" stroke-width="0.15" textLength="52" lengthAdjust="spacingAndGlyphs">14 Jun 08:00</text>
<text x="822" y="933.3" font-size="9" fill="#000" stroke="#000" stroke-width="0.15" textLength="52" lengthAdjust="spacingAndGlyphs">15 Jun 16:00</text>
<text x="886" y="933.3" font-size="9" fill="#000" stroke="#000" stroke-width="0.15" textLength="52" lengthAdjust="spacingAndGlyphs">17 Jun 00:00</text>
<text x="950" y="933.3" font-size="9" fill="#000" stroke="#000" stroke-width="0.15" textLength="52" lengthAdjust="spacingAndGlyphs">20 Jun 08:00</text>
<text x="1014" y="933.3" font-size="9" fill="#000" stroke="#000" stroke-width="0.15" textLength="52" lengthAdjust="spacingAndGlyphs">21 Jun 16:00</text>
<text x="1078" y="933.3" font-size="9" fill="#000" stroke="#000" stroke-width="0.15" textLength="52" lengthAdjust="spacingAndGlyphs">23 Jun 00:00</text>
<text x="1142" y="933.3" font-size="9" fill="#000" stroke="#000" stroke-width="0.15" textLength="52" lengthAdjust="spacingAndGlyphs">24 Jun 08:00</text>
<text x="1206" y="933.3" font-size="9" fill="#000" stroke="#000" stroke-width="0.15" textLength="52" lengthAdjust="spacingAndGlyphs">27 Jun 16:00</text>
<text x="1270" y="933.3" font-size="9" fill="#000" stroke="#000" stroke-width="0.15" textLength="52" lengthAdjust="spacingAndGlyphs">29 Jun 00:00</text>
<rect x="1696" y="18" width="1" height="916" fill="#dcdcdc"/>
<g id="toolbar">
<rect x="0" y="0" width="1697" height="16" fill="#f0f0f0"/>
<rect x="0" y="15" width="1697" height="1" fill="#f7f7f7"/>
<rect x="0" y="16" width="1697" height="1" fill="#b4b4b4"/>
<rect x="0" y="17" width="1697" height="1" fill="#6a6a6a"/>
<rect x="0" y="18" width="1697" height="2" fill="#ffffff"/>
<rect x="287" y="0" width="23" height="14" fill="#f8f8f8"/>
<rect x="437" y="0" width="25" height="14" fill="#f8f8f8"/>
<rect x="466" y="0" width="25" height="14" fill="#f8f8f8"/>
<rect x="626" y="0" width="24" height="14" fill="#f8f8f8"/>
<rect x="1072" y="0" width="24" height="14" fill="#f8f8f8"/>
<rect x="7" y="0" width="1" height="14" fill="#c0c0c0"/>
<rect x="11" y="0" width="1" height="14" fill="#a8a8a8"/>
<rect x="247" y="0" width="1" height="14" fill="#a8a8a8"/>
<rect x="285" y="0" width="1" height="14" fill="#a8a8a8"/>
<rect x="342" y="0" width="1" height="14" fill="#a8a8a8"/>
<rect x="432" y="0" width="1" height="14" fill="#a8a8a8"/>
<rect x="465" y="0" width="1" height="14" fill="#a8a8a8"/>
<rect x="494" y="0" width="1" height="14" fill="#a8a8a8"/>
<rect x="682" y="0" width="1" height="14" fill="#a8a8a8"/>
<rect x="1182" y="0" width="1" height="14" fill="#a8a8a8"/>
<rect x="436" y="0" width="1" height="14" fill="#c4c4c4"/>
<rect x="625" y="0" width="1" height="14" fill="#c4c4c4"/>
<rect x="1071" y="0" width="1" height="14" fill="#c4c4c4"/>
<rect x="615" y="0" width="1" height="16" fill="#707070"/>
<rect x="616" y="0" width="1" height="16" fill="#ffffff"/>
<rect x="921" y="0" width="1" height="16" fill="#707070"/>
<rect x="922" y="0" width="1" height="16" fill="#ffffff"/>
<rect x="251" y="0" width="3" height="1" fill="#a0a0a0"/>
<rect x="251" y="2" width="3" height="1" fill="#a0a0a0"/>
<rect x="251" y="4" width="3" height="1" fill="#a0a0a0"/>
<rect x="251" y="6" width="3" height="1" fill="#a0a0a0"/>
<rect x="251" y="8" width="3" height="1" fill="#a0a0a0"/>
<rect x="251" y="10" width="3" height="1" fill="#a0a0a0"/>
<rect x="251" y="12" width="3" height="1" fill="#a0a0a0"/>
<rect x="619" y="0" width="3" height="1" fill="#a0a0a0"/>
<rect x="619" y="2" width="3" height="1" fill="#a0a0a0"/>
<rect x="619" y="4" width="3" height="1" fill="#a0a0a0"/>
<rect x="619" y="6" width="3" height="1" fill="#a0a0a0"/>
<rect x="619" y="8" width="3" height="1" fill="#a0a0a0"/>
<rect x="619" y="10" width="3" height="1" fill="#a0a0a0"/>
<rect x="619" y="12" width="3" height="1" fill="#a0a0a0"/>
<rect x="925" y="0" width="3" height="1" fill="#a0a0a0"/>
<rect x="925" y="2" width="3" height="1" fill="#a0a0a0"/>
<rect x="925" y="4" width="3" height="1" fill="#a0a0a0"/>
<rect x="925" y="6" width="3" height="1" fill="#a0a0a0"/>
<rect x="925" y="8" width="3" height="1" fill="#a0a0a0"/>
<rect x="925" y="10" width="3" height="1" fill="#a0a0a0"/>
<rect x="925" y="12" width="3" height="1" fill="#a0a0a0"/>
<path d="M0 8 L3 11 L2 13 L0 12 Z" fill="#e8a020"/>
<rect x="21.5" y="-3" width="10" height="12" fill="#fff" stroke="#8a8a8a" stroke-width="1"/>
<rect x="23" y="3" width="6" height="1" fill="#9a9a9a"/><rect x="23" y="5" width="4" height="1" fill="#9a9a9a"/>
<path d="M29 2h4v4h4v4h-4v4h-4v-4h-4v-4h4z" fill="#22c322" stroke="#0a8a0a" stroke-width="0.8"/>
<text x="40" y="6.4" font-size="12" fill="#000" stroke="#000" stroke-width="0.3" style="font-family:"Liberation Sans","Noto Sans CJK SC",sans-serif">新订单</text>
<path d="M96 -3 L104 4 L97 12 L88 5 Z" fill="#e8b830" stroke="#a87810" stroke-width="1"/>
<path d="M89 6 L97 12 L104 5 L104 7 L97 13.5 L89 8 Z" fill="#c89018"/>
<rect x="119" y="-3" width="10" height="8" fill="#3a8ae0"/>
<rect x="121" y="-1" width="6" height="4" fill="#e8f2fc"/>
<path d="M118 11 a3.5 3.5 0 0 1 1 -6.5 a4.5 4.5 0 0 1 8.5 -0.5 a3.5 3.5 0 0 1 2 7 Z" fill="#eef3fa" stroke="#8aa0c8" stroke-width="1"/>
<circle cx="152" cy="2" r="7.5" fill="none" stroke="#6aa0d8" stroke-width="1.6"/>
<circle cx="152" cy="2" r="4.5" fill="none" stroke="#5a90c8" stroke-width="1.4"/>
<path d="M152 2 a5 5 0 0 1 4 9 l-3.5 1 Z" fill="#40a040"/>
<path d="M171 0 L187 0 L184 6 L178 11 L173 7 Z" fill="#f0c030" stroke="#b08818" stroke-width="0.8"/>
<path d="M173 -2 h12 v3 h-12 z" fill="#6aa8e0"/>
<circle cx="183" cy="7.5" r="4.6" fill="#e82020"/><rect x="181.3" y="5.8" width="3.4" height="3.4" fill="#fff"/>
<text x="192" y="6.4" font-size="12" fill="#000" stroke="#000" stroke-width="0.3" style="font-family:"Liberation Sans","Noto Sans CJK SC",sans-serif">自动交易</text>
<path d="M265.5 0 V12 M262.5 9.5 H276" stroke="#444" stroke-width="1.2" fill="none"/>
<path d="M274.5 8 l2.5 1.5 l-2.5 1.5 z" fill="#444"/>
<path d="M274 0.5 H271.5 V6.5 H269" stroke="#1a9a1a" stroke-width="1.4" fill="none"/>
<path d="M293.5 0 V12 M290.5 9.5 H304" stroke="#444" stroke-width="1.2" fill="none"/>
<path d="M302.5 8 l2.5 1.5 l-2.5 1.5 z" fill="#444"/>
<rect x="297.5" y="-2" width="4" height="7.5" fill="#22c322" stroke="#0a8a0a" stroke-width="0.8"/><rect x="299" y="5.5" width="1" height="2.5" fill="#0a8a0a"/>
<path d="M321.5 0 V12 M318.5 9.5 H332" stroke="#444" stroke-width="1.2" fill="none"/>
<path d="M330.5 8 l2.5 1.5 l-2.5 1.5 z" fill="#444"/>
<path d="M320 6.5 C323 2 326 -1 328 1.5 C329.5 3.5 330.5 5 332 5.5" stroke="#1a9a1a" stroke-width="1.3" fill="none"/>
<path d="M360 5.5 L365.5 11" stroke="#c8a020" stroke-width="3" stroke-linecap="round"/>
<circle cx="356.5" cy="1.5" r="5.5" fill="#d4e8f8" stroke="#3a88d8" stroke-width="1.2"/>
<rect x="353.5" y="1" width="6" height="1.6" fill="#2a70c8"/>
<rect x="355.7" y="-2" width="1.6" height="6" fill="#2a70c8"/>
<path d="M389.5 5.5 L395 11" stroke="#c8a020" stroke-width="3" stroke-linecap="round"/>
<circle cx="386" cy="1.5" r="5.5" fill="#d4e8f8" stroke="#3a88d8" stroke-width="1.2"/>
<rect x="383" y="1" width="6" height="1.6" fill="#2a70c8"/>
<rect x="407.5" y="-4" width="7.5" height="7" fill="#38a838"/><rect x="416" y="-4" width="7.5" height="7" fill="#2a68d0"/>
<rect x="407.5" y="4" width="7.5" height="7.5" fill="#2a68d0"/><rect x="416" y="4" width="7.5" height="7.5" fill="#38a838"/>
<rect x="409" y="-1" width="4.5" height="2" fill="#e8f8e8"/><rect x="417.5" y="-1" width="4.5" height="2" fill="#e8eefc"/>
<rect x="409" y="7" width="4.5" height="2.5" fill="#e8eefc"/><rect x="417.5" y="7" width="4.5" height="2.5" fill="#e8f8e8"/>
<path d="M446 0 V12 M443 9.5 H456.5" stroke="#444" stroke-width="1.2" fill="none"/>
<path d="M455 8 l2.5 1.5 l-2.5 1.5 z" fill="#444"/>
<path d="M450.5 0 L454 3.5 L450.5 6.5 Z" fill="none" stroke="#1a9a1a" stroke-width="1.1"/>
<path d="M474 0 V12 M471 9.5 H484.5" stroke="#444" stroke-width="1.2" fill="none"/>
<path d="M483 8 l2.5 1.5 l-2.5 1.5 z" fill="#444"/>
<rect x="479" y="0" width="1.2" height="8" fill="#2a60c0"/>
<path d="M481 3.5 H485 M481 3.5 l2 -2 M481 3.5 l2 2" stroke="#d04010" stroke-width="1.1" fill="none"/>
<rect x="504.5" y="-3" width="10.5" height="12" fill="#fff" stroke="#8a8a8a" stroke-width="1"/>
<path d="M506 3 l3 -2 l3 1" stroke="#a06030" stroke-width="0.8" fill="none"/>
<path d="M512 2.5h4v4h4v3.6h-4v4h-4v-4h-4v-3.6h4z" fill="#22c322" stroke="#0a8a0a" stroke-width="0.8"/>
<path d="M526 3.2 h5.4 l-2.7 3 z" fill="#000"/>
<path d="M565 3.2 h5.4 l-2.7 3 z" fill="#000"/>
<path d="M603.7 3.2 h5.4 l-2.7 3 z" fill="#000"/>
<path d="M-395.5 3.2 h5.4 l-2.7 3 z" fill="#000"/>
<path d="M909.6 3.2 h5.4 l-2.7 3 z" fill="#000"/>
<circle cx="550" cy="3.5" r="6.8" fill="#fbfbfb" stroke="#2a68d0" stroke-width="2.6"/>
<path d="M550 0 V4 H553" stroke="#666" stroke-width="1" fill="none"/>
<rect x="581.5" y="-3" width="15" height="13.5" fill="#fff" stroke="#3a78d0" stroke-width="1.2"/>
<rect x="581.5" y="4.5" width="15" height="1" fill="#3a78d0"/>
<path d="M583 3 l3 -1 l3 0.5 l3 -1 l3 -0.5" stroke="#b03010" stroke-width="1" fill="none"/>
<path d="M583 8.5 l3 -1 l3 1 l3 -1.5 l3 1.5" stroke="#1a9a1a" stroke-width="1" fill="none"/>
<path d="M633 -3 L641.5 5 L637.8 5.2 L640 10.3 L638.2 11.2 L636 6 L633 8.5 Z" fill="#404040"/>
<path d="M658 4.5 H664 M667 4.5 H673 M665.5 0 V3 M665.5 6 V12" stroke="#555" stroke-width="1.1" fill="none"/>
<rect x="699" y="0" width="1.2" height="11" fill="#555"/>
<rect x="722" y="4" width="12" height="1.2" fill="#555"/>
<path d="M749.5 11 L761.5 -0.5" stroke="#555" stroke-width="1.2"/>
<path d="M776 5 L789 -4 M778 10 L791 1 M779 3 l2 6 M783 0 l2 6 M786 -2 l2 6" stroke="#555" stroke-width="1" fill="none"/>
<text x="787" y="12.3" font-size="6.5" font-weight="bold" fill="#444">E</text>
<line x1="805" y1="0.5" x2="818.5" y2="0.5" stroke="#555" stroke-width="1" stroke-dasharray="1.5,1"/>
<line x1="805" y1="4.5" x2="818.5" y2="4.5" stroke="#555" stroke-width="1" stroke-dasharray="1.5,1"/>
<line x1="805" y1="8.5" x2="818.5" y2="8.5" stroke="#555" stroke-width="1" stroke-dasharray="1.5,1"/>
<text x="814.5" y="12.6" font-size="6.5" font-weight="bold" fill="#444">F</text>
<text x="835.5" y="8.6" font-size="12.5" fill="#555" stroke="#555" stroke-width="0.5">A</text>
<rect x="862.5" y="-2" width="11.5" height="12.5" fill="none" stroke="#555" stroke-width="1" stroke-dasharray="1,1"/>
<text x="864.3" y="8.6" font-size="11" fill="#555" stroke="#555" stroke-width="0.5">T</text>
<path d="M891 2 l3 3 l5 -6" stroke="#444" stroke-width="1.3" fill="none"/>
<path d="M893 -2 l2.5 2.5 l-2.5 2.5 l-2.5 -2.5 z M900 5 l3 3 l-3 3 l-3 -3 z" fill="#444"/>
<text x="936.7" y="7.8" font-size="9.4" fill="#505050" stroke="#505050" stroke-width="0.2">M1</text>
<text x="964.8" y="7.8" font-size="9.4" fill="#505050" stroke="#505050" stroke-width="0.2">M5</text>
<text x="990" y="7.8" font-size="9.4" fill="#505050" stroke="#505050" stroke-width="0.2">M15</text>
<text x="1018.4" y="7.8" font-size="9.4" fill="#505050" stroke="#505050" stroke-width="0.2">M30</text>
<text x="1049.5" y="7.8" font-size="9.4" fill="#505050" stroke="#505050" stroke-width="0.2">H1</text>
<text x="1076.6" y="7.8" font-size="9.4" fill="#505050" stroke="#505050" stroke-width="0.2">H4</text>
<text x="1105.4" y="7.8" font-size="9.4" fill="#505050" stroke="#505050" stroke-width="0.2">D1</text>
<text x="1133.2" y="7.8" font-size="9.4" fill="#505050" stroke="#505050" stroke-width="0.2">W1</text>
<text x="1159.6" y="7.8" font-size="9.4" fill="#505050" stroke="#505050" stroke-width="0.2">MN</text>
<path d="M1649.6 4.8 L1644.8 9.3" stroke="#2a5cc8" stroke-width="2.2"/>
<circle cx="1652.7" cy="1.4" r="4.2" fill="#f4f6fb" stroke="#2a5cc8" stroke-width="1.1"/>
<path d="M1670 4 a4 4 0 0 1 4 -3 h5 a4 4 0 0 1 0 9 h-4 l-3 2.5 l0.5 -2.8 a4 4 0 0 1 -2.5 -5.7 z" fill="#e6e8ee" stroke="#a4a8b2" stroke-width="0.9"/>
<circle cx="1683.6" cy="1" r="8.3" fill="#dc3416"/>
<text x="1683.6" y="6" font-size="11" fill="#fff" text-anchor="middle" style="font-family:'Liberation Serif',serif">1</text>
</g>
</svg></body></html>
